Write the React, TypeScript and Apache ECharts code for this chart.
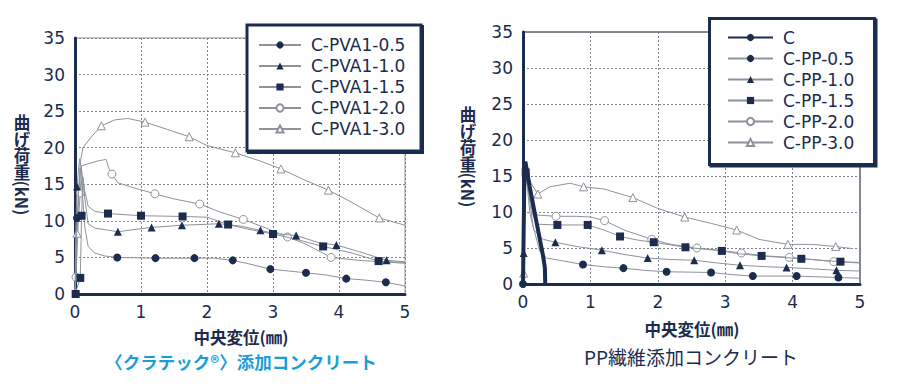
import React, { useEffect, useRef } from "react";
import * as echarts from "echarts";

type P = [number, number];

const NAVY = "#1b2c4e";
const GRAY = "#8d929b";
const GRIDC = "#7d828b";
const CYAN = "#1a9ed9";
const NUM_FONT = "DejaVu Sans";
const CJK_FONT = "Noto Sans CJK JP";

const Y_TITLE = "曲げ荷重(kN)";

// axes
const xMin = 0, xMax = 5, xStep = 1;
const yMin = 0, yMax = 35, yStep = 5;

// ---------- left chart: クラテック (PVA) ----------
const pvaNames = ["C-PVA1-0.5", "C-PVA1-1.0", "C-PVA1-1.5", "C-PVA1-2.0", "C-PVA1-3.0"];

const pva05Curve: P[] = [[0,0],[0.02,6],[0.03,10.4],[0.06,15],[0.08,17.2],[0.11,14],[0.15,9],[0.2,6.5],[0.3,5.6],[0.45,5.2],[0.64,5.0],[1.22,4.9],[1.81,4.9],[2.1,4.9],[2.39,4.6],[2.6,4.2],[2.96,3.4],[3.5,2.9],[3.8,2.6],[4.11,2.1],[4.4,1.9],[4.71,1.6],[5,1.1]];
const pva05Marks: P[] = [[0.03,10.4],[0.64,5.0],[1.22,4.9],[1.81,4.9],[2.39,4.6],[2.96,3.4],[3.5,2.9],[4.11,2.1],[4.71,1.6]];

const pva10Curve: P[] = [[0,0],[0.01,8],[0.03,14.7],[0.07,18.5],[0.1,17],[0.15,13],[0.2,9.6],[0.3,9.0],[0.45,8.8],[0.65,8.5],[0.8,8.7],[1.16,9.1],[1.62,9.4],[2.18,9.6],[2.5,9.3],[2.81,8.7],[3.0,8.3],[3.35,8.0],[3.7,7.0],[3.96,6.7],[4.3,5.8],[4.72,4.6],[5,4.4]];
const pva10Marks: P[] = [[0.03,14.7],[0.65,8.5],[1.16,9.1],[1.62,9.4],[2.18,9.6],[2.81,8.7],[3.35,8.0],[3.96,6.7],[4.72,4.6]];

const pva15Curve: P[] = [[0,0],[0.02,0.5],[0.08,2.2],[0.1,10.7],[0.12,16],[0.15,14],[0.2,12],[0.3,11.3],[0.5,11.0],[1.0,10.7],[1.63,10.6],[2.0,10.5],[2.32,9.5],[2.6,8.9],[3.0,8.2],[3.3,7.6],[3.76,6.5],[4.2,5.6],[4.6,4.5],[5,4.3]];
const pva15Marks: P[] = [[0.01,0],[0.08,2.2],[0.1,10.7],[0.5,11.0],[1.0,10.7],[1.63,10.6],[2.32,9.5],[3.0,8.2],[3.76,6.5],[4.6,4.5]];

const pva20Curve: P[] = [[0,0],[0.015,2.3],[0.05,10],[0.08,13.8],[0.1,17.5],[0.2,17.8],[0.35,18.2],[0.47,18.4],[0.52,17],[0.56,16.4],[0.65,15.2],[0.9,14.5],[1.21,13.7],[1.5,13.0],[1.89,12.3],[2.2,11.2],[2.55,10.2],[2.9,9.0],[3.22,7.8],[3.5,6.8],[3.88,5.0],[4.3,4.6],[5,4.2]];
const pva20Marks: P[] = [[0.015,2.3],[0.08,13.8],[0.56,16.4],[1.21,13.7],[1.89,12.3],[2.55,10.2],[3.22,7.8],[3.88,5.0]];

const pva30Curve: P[] = [[0,0],[0.03,8.3],[0.08,18],[0.12,20],[0.25,21.5],[0.4,23.0],[0.6,23.8],[0.8,24.0],[1.06,23.5],[1.4,22.5],[1.73,21.5],[2.0,20.3],[2.43,19.3],[2.8,18.2],[3.12,17.1],[3.5,15.5],[3.84,14.2],[4.2,12.5],[4.61,10.4],[5,9.4]];
const pva30Marks: P[] = [[0.03,8.3],[0.4,23.0],[1.06,23.5],[1.73,21.5],[2.43,19.3],[3.12,17.1],[3.84,14.2],[4.61,10.4]];

// ---------- right chart: PP ----------
const ppNames = ["C", "C-PP-0.5", "C-PP-1.0", "C-PP-1.5", "C-PP-2.0", "C-PP-3.0"];

const cCurve: P[] = [[0,0],[0.02,15],[0.035,17],[0.1,13.5],[0.2,8.6],[0.3,3.8],[0.325,2.2],[0.33,0]];

const pp05Curve: P[] = [[0,0],[0.02,12],[0.04,16],[0.08,13],[0.15,8],[0.25,4.5],[0.35,3.6],[0.6,3.2],[0.89,2.7],[1.2,2.4],[1.49,2.2],[1.8,1.9],[2.13,1.7],[2.79,1.6],[3.1,1.3],[3.41,1.1],[4.06,1.1],[4.68,0.9],[5,0.8]];
const pp05Marks: P[] = [[0,0],[0.89,2.7],[1.49,2.2],[2.13,1.7],[2.79,1.6],[3.41,1.1],[4.06,1.1],[4.68,0.9]];

const pp10Curve: P[] = [[0,0],[0.01,4.3],[0.03,15],[0.06,14],[0.1,10],[0.16,7.5],[0.3,6.2],[0.48,5.8],[0.8,5.2],[1.17,4.7],[1.5,4.1],[1.85,3.6],[2.2,3.4],[2.54,3.3],[2.9,2.9],[3.22,2.6],[3.6,2.4],[3.91,2.3],[4.3,2.1],[4.65,1.9],[5,1.8]];
const pp10Marks: P[] = [[0.01,4.3],[0.48,5.8],[1.17,4.7],[1.85,3.6],[2.54,3.3],[3.22,2.6],[3.91,2.3],[4.65,1.9]];

const pp15Curve: P[] = [[0,0],[0.02,10],[0.04,15.5],[0.08,13],[0.15,9.5],[0.22,8.3],[0.51,8.2],[0.96,8.2],[1.2,7.5],[1.44,6.6],[1.7,6.1],[1.94,5.8],[2.41,5.1],[2.95,4.6],[3.2,4.2],[3.54,3.9],[4.13,3.5],[4.71,3.1],[5,2.9]];
const pp15Marks: P[] = [[0.04,15.5],[0.51,8.2],[0.96,8.2],[1.44,6.6],[1.94,5.8],[2.41,5.1],[2.95,4.6],[3.54,3.9],[4.13,3.5],[4.71,3.1]];

const pp20Curve: P[] = [[0,0],[0.02,8],[0.04,15],[0.1,12],[0.18,9.6],[0.49,9.4],[0.8,9.4],[1.0,9.3],[1.21,8.8],[1.5,7.5],[1.91,6.2],[2.2,5.5],[2.58,5.0],[2.9,4.7],[3.24,4.3],[3.6,3.9],[3.95,3.7],[4.3,3.4],[4.61,3.1],[5,3.0]];
const pp20Marks: P[] = [[0.49,9.4],[1.21,8.8],[1.91,6.2],[2.58,5.0],[3.24,4.3],[3.95,3.7],[4.61,3.1]];

const pp30Curve: P[] = [[0,0],[0.01,1.5],[0.03,12],[0.05,15.5],[0.12,14],[0.22,12.5],[0.4,13.5],[0.7,14.0],[0.9,13.5],[1.2,13.2],[1.63,12.0],[2.0,10.5],[2.4,9.3],[2.8,8.4],[3.17,7.5],[3.5,6.2],[3.93,5.5],[4.3,5.5],[4.64,5.2],[4.9,4.9]];
const pp30Marks: P[] = [[0.01,1.5],[0.22,12.5],[0.9,13.5],[1.63,12.0],[2.4,9.3],[3.17,7.5],[3.93,5.5],[4.64,5.2]];

// marker styles per fibre dosage
const markerKinds = [
  { symbol: "circle", filled: true, size: 8 },
  { symbol: "triangle", filled: true, size: 8 },
  { symbol: "rect", filled: true, size: 8 },
  { symbol: "circle", filled: false, size: 8 },
  { symbol: "triangle", filled: false, size: 8 },
];

function merge(curve: P[], marks: P[]) {
  const key = (p: P) => p[0] + "," + p[1];
  const ms = new Set(marks.map(key));
  const all: any[] = [
    ...curve.filter((p) => !ms.has(key(p))).map((p) => ({ value: p, symbol: "none" })),
    ...marks.map((p) => ({ value: p })),
  ];
  all.sort((a, b) => a.value[0] - b.value[0]);
  return all;
}

function fibreSeries(name: string, idx: number, kind: number, curve: P[], marks: P[]) {
  const k = markerKinds[kind];
  return {
    type: "line",
    name,
    xAxisIndex: idx,
    yAxisIndex: idx,
    data: merge(curve, marks),
    symbol: k.symbol,
    symbolSize: k.size,
    showAllSymbol: true,
    silent: true,
    z: k.filled ? 3 : 2,
    lineStyle: { color: GRAY, width: 1 },
    itemStyle: k.filled
      ? { color: NAVY, borderWidth: 0 }
      : { color: "#ffffff", borderColor: GRAY, borderWidth: 1 },
    emphasis: { disabled: true },
  };
}

function axisPair(idx: number) {
  const common = {
    gridIndex: idx,
    type: "value",
    axisTick: { show: false },
    splitLine: { show: true, lineStyle: { color: GRIDC, width: 1, type: [2, 2] } },
    axisLine: { show: true, onZero: false, lineStyle: { color: NAVY, width: 3 } },
  };
  return {
    x: {
      ...common,
      min: xMin, max: xMax, interval: xStep,
      axisLabel: { color: NAVY, fontSize: 17, fontFamily: NUM_FONT, margin: 9 },
    },
    y: {
      ...common,
      min: yMin, max: yMax, interval: yStep,
      axisLabel: { color: NAVY, fontSize: 17, fontFamily: NUM_FONT, margin: 10 },
    },
  };
}

// vertical axis title: one text, laid out vertically after rendering
function yTitle(cx: number, cy: number) {
  return {
    type: "text",
    x: cx,
    y: cy,
    style: { text: Y_TITLE, font: `bold 16.5px "${CJK_FONT}"`, fill: NAVY, align: "center", verticalAlign: "middle" },
  };
}

function legendBox(x: number, y: number, w: number, h: number) {
  return [
    { type: "rect", z: 10, shape: { x: x + 1.5, y: y + 1.5, width: w, height: h }, style: { fill: NAVY, stroke: NAVY, lineWidth: 3 } },
    { type: "rect", z: 11, shape: { x, y, width: w, height: h }, style: { fill: "#ffffff", stroke: NAVY, lineWidth: 3 } },
  ];
}

export default function App() {
  const ref = useRef<HTMLDivElement>(null);
  useEffect(() => {
    if (!ref.current) return;
    const el = ref.current;
    const chart = echarts.init(el, undefined, { renderer: "svg" });
    const a0 = axisPair(0);
    const a1 = axisPair(1);
    const legendText = { color: NAVY, fontSize: 17, fontFamily: NUM_FONT, padding: [0, 0, 0, 5] };
    const option: any = {
      animation: false,
      backgroundColor: "#ffffff",
      grid: [
        { left: 75, right: 496, top: 38, bottom: 93, show: true, borderColor: GRAY, borderWidth: 1, containLabel: false },
        { left: 523, right: 41, top: 32, bottom: 103, show: true, borderColor: "#5d636d", borderWidth: 1.5, containLabel: false },
      ],
      xAxis: [a0.x, a1.x],
      yAxis: [a0.y, a1.y],
      legend: [
        {
          data: pvaNames, orient: "vertical", left: 258, top: 36.5, padding: 0,
          itemWidth: 42, itemHeight: 9, itemGap: 4, z: 20, selectedMode: false,
          textStyle: legendText,
        },
        {
          data: ppNames, orient: "vertical", left: 727, top: 29, padding: 0,
          itemWidth: 45, itemHeight: 9, itemGap: 4, z: 20, selectedMode: false,
          textStyle: legendText,
        },
      ],
      graphic: [
        ...legendBox(247, 25, 174, 126),
        ...legendBox(709.5, 18.5, 165, 146),
        yTitle(22, 165),
        yTitle(468, 157),
        {
          type: "text", x: 241, y: 337,
          style: { text: "中央変位(㎜)", font: `bold 16.5px "${CJK_FONT}"`, fill: NAVY, align: "center", verticalAlign: "middle" },
        },
        {
          type: "text", x: 241, y: 361.5,
          style: { text: "〈クラテック®〉添加コンクリート", font: `bold 17.5px "${CJK_FONT}"`, fill: CYAN, align: "center", verticalAlign: "middle" },
        },
        {
          type: "text", x: 692, y: 329,
          style: { text: "中央変位(㎜)", font: `bold 16.5px "${CJK_FONT}"`, fill: NAVY, align: "center", verticalAlign: "middle" },
        },
        {
          type: "text", x: 691, y: 356,
          style: { text: "PP繊維添加コンクリート", font: `19px "${CJK_FONT}"`, fill: NAVY, align: "center", verticalAlign: "middle" },
        },
      ],
      series: [
        fibreSeries(pvaNames[0], 0, 0, pva05Curve, pva05Marks),
        fibreSeries(pvaNames[1], 0, 1, pva10Curve, pva10Marks),
        fibreSeries(pvaNames[2], 0, 2, pva15Curve, pva15Marks),
        fibreSeries(pvaNames[3], 0, 3, pva20Curve, pva20Marks),
        fibreSeries(pvaNames[4], 0, 4, pva30Curve, pva30Marks),
        fibreSeries(ppNames[1], 1, 0, pp05Curve, pp05Marks),
        fibreSeries(ppNames[2], 1, 1, pp10Curve, pp10Marks),
        fibreSeries(ppNames[3], 1, 2, pp15Curve, pp15Marks),
        fibreSeries(ppNames[4], 1, 3, pp20Curve, pp20Marks),
        fibreSeries(ppNames[5], 1, 4, pp30Curve, pp30Marks),
        {
          type: "line", name: ppNames[0], xAxisIndex: 1, yAxisIndex: 1,
          data: cCurve, symbol: "none", silent: true, z: 4,
          lineStyle: { color: NAVY, width: 4 }, itemStyle: { color: NAVY },
          emphasis: { disabled: true },
        },
      ],
    };
    // lay the y-axis titles out vertically (upright CJK, as in the original)
    const makeVertical = () => {
      el.querySelectorAll("text").forEach((t) => {
        if (t.textContent === Y_TITLE) {
          t.setAttribute("writing-mode", "vertical-rl");
          t.setAttribute("text-orientation", "mixed");
          t.setAttribute("text-anchor", "middle");
          t.setAttribute("dominant-baseline", "central");
          (t as any).style.writingMode = "vertical-rl";
          (t as any).style.textOrientation = "mixed";
        }
      });
    };
    chart.on("finished", makeVertical);
    chart.setOption(option);
    makeVertical();
    const raf = requestAnimationFrame(makeVertical);
    return () => {
      cancelAnimationFrame(raf);
      chart.dispose();
    };
  }, []);
  return (
    <div
      ref={ref}
      style={{ position: "fixed", left: 0, top: 0, width: 901, height: 387, background: "#fff" }}
    />
  );
}
